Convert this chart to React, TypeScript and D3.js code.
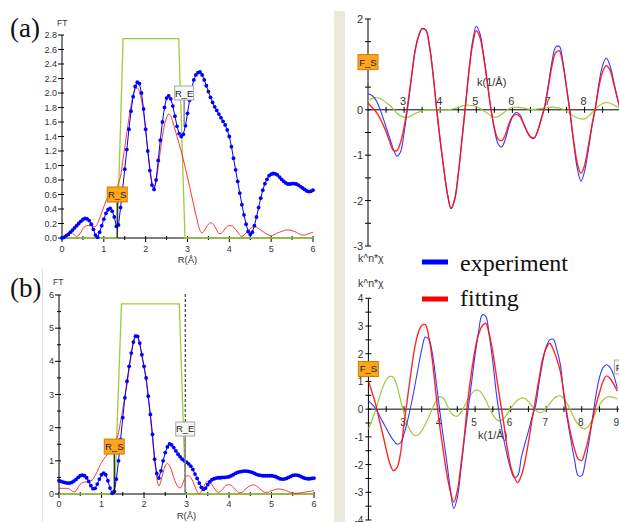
import React from 'react';
import * as d3 from 'd3';

// ---------- data ----------
// FT grids: R = 0..6 step 0.05 ; chi grids: k = 2..9 step 0.1
const R_GRID = d3.range(121).map((i) => i * 0.05);
const K_GRID = d3.range(71).map((i) => 2 + i * 0.1);

const ftExpA = [
  0.00,0.01,0.03,0.05,0.08,0.11,0.14,0.17,0.20,0.23,
  0.255,0.27,0.265,0.24,0.19,0.12,0.04,0.01,0.08,0.17,
  0.26,0.34,0.39,0.41,0.37,0.29,0.16,0.18,0.42,0.68,
  0.95,1.22,1.50,1.75,1.95,2.09,2.15,2.13,2.00,1.78,
  1.50,1.20,0.93,0.73,0.67,0.80,1.07,1.35,1.60,1.80,
  1.93,1.96,1.92,1.82,1.68,1.54,1.44,1.40,1.43,1.55,
  1.72,1.90,2.06,2.18,2.25,2.28,2.29,2.25,2.18,2.10,
  2.02,1.94,1.87,1.81,1.76,1.71,1.66,1.61,1.56,1.49,
  1.40,1.26,1.10,0.94,0.78,0.62,0.46,0.32,0.19,0.09,
  0.05,0.08,0.17,0.29,0.42,0.55,0.66,0.75,0.81,0.86,
  0.88,0.89,0.885,0.87,0.84,0.81,0.78,0.76,0.745,0.745,
  0.75,0.75,0.745,0.73,0.71,0.69,0.67,0.65,0.64,0.645,
  0.66,
];
const ftFitA = [
  0.00,0.03,0.05,0.07,0.08,0.07,0.04,0.02,0.04,0.08,
  0.13,0.16,0.17,0.17,0.17,0.16,0.16,0.20,0.27,0.35,
  0.43,0.51,0.57,0.61,0.63,0.64,0.67,0.76,0.85,1.05,
  1.25,1.45,1.65,1.83,1.97,2.05,2.07,2.02,1.90,1.72,
  1.48,1.22,0.98,0.78,0.68,0.78,0.98,1.20,1.40,1.56,
  1.66,1.71,1.68,1.60,1.50,1.40,1.30,1.20,1.08,0.96,
  0.84,0.71,0.58,0.45,0.32,0.20,0.10,0.07,0.10,0.15,
  0.19,0.21,0.20,0.16,0.11,0.06,0.06,0.09,0.13,0.16,
  0.17,0.17,0.15,0.12,0.08,0.04,0.02,0.04,0.07,0.10,
  0.13,0.15,0.16,0.15,0.13,0.11,0.09,0.07,0.05,0.04,
  0.03,0.04,0.05,0.07,0.08,0.09,0.10,0.11,0.11,0.11,
  0.10,0.09,0.08,0.06,0.05,0.04,0.04,0.05,0.06,0.07,
  0.08,
];
const ftExpB = [
  0.40,0.38,0.36,0.34,0.33,0.33,0.35,0.39,0.44,0.50,
  0.55,0.57,0.55,0.49,0.38,0.25,0.16,0.17,0.30,0.45,
  0.58,0.63,0.58,0.40,0.18,0.02,0.08,0.45,1.00,1.65,
  2.30,2.90,3.40,3.85,4.25,4.58,4.76,4.75,4.55,4.20,
  3.85,3.50,2.95,2.40,1.80,1.05,0.62,0.48,0.70,1.00,
  1.25,1.42,1.51,1.48,1.40,1.30,1.20,1.12,1.05,1.00,
  0.96,0.91,0.84,0.74,0.60,0.47,0.33,0.20,0.14,0.18,
  0.28,0.37,0.43,0.46,0.48,0.49,0.49,0.50,0.50,0.51,
  0.52,0.55,0.58,0.62,0.65,0.67,0.68,0.69,0.69,0.68,
  0.67,0.65,0.62,0.59,0.57,0.56,0.55,0.55,0.55,0.55,
  0.55,0.54,0.52,0.49,0.46,0.45,0.45,0.47,0.50,0.53,
  0.56,0.57,0.57,0.55,0.52,0.49,0.47,0.46,0.46,0.47,
  0.48,
];
const ftFitB = [
  0.17,0.17,0.17,0.17,0.17,0.15,0.10,0.06,0.10,0.20,
  0.30,0.34,0.36,0.37,0.38,0.40,0.44,0.55,0.68,0.82,
  0.95,1.05,1.13,1.22,1.32,1.42,1.50,1.62,1.85,2.20,
  2.55,2.95,3.30,3.75,4.20,4.58,4.80,4.78,4.52,4.15,
  3.80,3.45,2.90,2.30,1.65,1.00,0.50,0.24,0.40,0.65,
  0.85,0.92,0.86,0.70,0.50,0.33,0.22,0.18,0.28,0.45,
  0.54,0.55,0.50,0.38,0.22,0.08,0.01,0.08,0.22,0.33,
  0.38,0.36,0.28,0.18,0.09,0.05,0.08,0.15,0.22,0.27,
  0.28,0.26,0.20,0.13,0.07,0.04,0.05,0.10,0.16,0.21,
  0.25,0.27,0.27,0.24,0.19,0.13,0.08,0.05,0.05,0.07,
  0.10,0.12,0.14,0.15,0.15,0.14,0.12,0.10,0.07,0.05,
  0.03,0.02,0.02,0.03,0.04,0.05,0.06,0.07,0.08,0.09,
  0.10,
];

const chiExpA = [
  0.36,0.32,0.24,0.08,-0.14,-0.38,-0.62,-0.86,-1.02,-0.93,
  -0.50,0.05,0.68,1.28,1.62,1.79,1.76,1.42,0.80,0.02,
  -0.68,-1.30,-1.85,-2.18,-1.98,-1.42,-0.68,0.10,0.90,1.52,
  1.84,1.68,1.22,0.65,0.05,-0.42,-0.74,-0.82,-0.66,-0.38,
  -0.16,-0.06,-0.10,-0.28,-0.47,-0.60,-0.63,-0.47,-0.20,0.10,
  0.58,1.08,1.38,1.40,1.05,0.50,-0.08,-0.75,-1.30,-1.57,
  -1.35,-0.90,-0.38,0.05,0.60,0.98,1.14,0.98,0.65,0.28,
  -0.05,
];
const chiFitA = [
  0.15,0.06,-0.02,-0.14,-0.30,-0.48,-0.70,-0.89,-0.90,-0.72,
  -0.38,0.12,0.70,1.28,1.62,1.78,1.76,1.42,0.80,0.02,
  -0.68,-1.30,-1.85,-2.17,-1.98,-1.42,-0.68,0.08,0.86,1.45,
  1.74,1.60,1.18,0.62,0.05,-0.40,-0.64,-0.68,-0.56,-0.32,
  -0.15,-0.10,-0.14,-0.29,-0.47,-0.59,-0.62,-0.46,-0.20,0.08,
  0.52,0.98,1.26,1.30,1.00,0.48,-0.08,-0.70,-1.18,-1.40,
  -1.22,-0.82,-0.35,0.05,0.52,0.84,0.97,0.88,0.60,0.28,
  0.02,
];
const chiWinA = [
  0.20,0.25,0.27,0.26,0.22,0.16,0.10,0.02,-0.07,-0.13,
  -0.16,-0.16,-0.13,-0.08,-0.05,-0.02,0.00,0.00,0.00,0.00,
  0.00,0.00,0.00,0.01,0.03,0.05,0.08,0.10,0.10,0.09,
  0.07,0.03,-0.02,-0.07,-0.13,-0.16,-0.15,-0.10,-0.04,0.02,
  0.05,0.06,0.05,0.04,0.02,0.01,0.01,0.02,0.03,0.04,
  0.05,0.06,0.05,0.04,0.01,-0.03,-0.08,-0.14,-0.18,-0.20,
  -0.20,-0.15,-0.07,0.02,0.09,0.14,0.16,0.15,0.11,0.07,
  0.03,
];
const chiExpB = [
  0.30,0.18,0.03,-0.20,-0.45,-0.68,-0.92,-1.12,-1.26,-1.22,
  -0.90,-0.42,0.15,0.80,1.50,2.15,2.60,2.52,2.00,1.05,
  0.02,-0.95,-1.85,-2.85,-3.58,-3.20,-2.20,-1.05,-0.05,0.95,
  1.95,2.80,3.40,3.35,2.65,1.70,0.55,-0.35,-1.05,-1.65,
  -2.15,-2.46,-2.40,-1.75,-1.25,-0.80,-0.30,0.12,0.95,1.70,
  2.25,2.50,2.52,2.15,1.60,0.45,-0.40,-1.15,-1.85,-2.40,
  -2.40,-1.90,-1.20,-0.35,0.50,1.15,1.50,1.60,1.50,1.22,
  0.75,
];
const chiFitB = [
  1.02,0.62,0.20,-0.35,-0.88,-1.45,-1.95,-2.22,-2.12,-1.62,
  -0.55,0.40,1.35,2.20,2.75,3.02,3.05,2.60,1.75,0.55,
  -0.55,-1.45,-2.30,-2.95,-3.35,-2.95,-2.05,-0.95,0.35,1.35,
  2.15,2.70,3.00,3.10,2.70,2.05,1.20,0.35,-0.45,-1.35,
  -2.05,-2.45,-2.65,-2.40,-1.90,-1.20,-0.40,0.35,1.10,1.80,
  2.20,2.38,2.15,1.80,1.35,0.55,-0.30,-0.95,-1.45,-1.80,
  -1.85,-1.50,-1.00,-0.40,0.15,0.60,1.00,1.20,1.10,0.90,
  0.65,
];
const chiWinB = [
  -0.72,-0.40,-0.05,0.38,0.78,1.05,1.18,1.15,0.85,0.35,
  -0.15,-0.55,-0.82,-0.95,-0.93,-0.78,-0.55,-0.28,0.02,0.30,
  0.45,0.40,0.18,-0.08,-0.23,-0.25,-0.12,0.10,0.35,0.55,
  0.68,0.68,0.55,0.32,0.05,-0.20,-0.37,-0.42,-0.35,-0.18,
  0.02,0.20,0.33,0.40,0.39,0.28,0.12,-0.03,-0.12,-0.10,
  0.03,0.20,0.36,0.46,0.48,0.38,0.18,-0.08,-0.35,-0.55,
  -0.67,-0.70,-0.60,-0.38,-0.10,0.15,0.33,0.43,0.45,0.42,
  0.37,
];

// R-space window (R, FT)
const winA_R = [0, 1.32, 1.46, 2.79, 2.94, 6];
const winA_FT = [0, 0, 2.75, 2.75, 0, 0];
const winB_R = [0, 1.31, 1.47, 2.83, 2.98, 6];
const winB_FT = [0, 0, 5.73, 5.73, 0, 0];

// fit range markers
const rStartA = 1.32, rEndA = 2.92;
const rStartB = 1.30, rEndB = 2.97;
const kStart = 2.0;

const yTicksA = d3.range(0, 2.81, 0.2);
const yTicksB = [0, 1, 2, 3, 4, 5, 6];
const rTicks = [0, 1, 2, 3, 4, 5, 6];
const kTicksA = [3, 4, 5, 6, 7, 8];
const kTicksB = [3, 4, 5, 6, 7, 8, 9];
const chiTicksA = [2, 0, -1, -2, -3]; // "1" is hidden under the F_S marker
const chiTicksB = [4, 3, 2, 1, 0, -1, -2, -3, -4];

const legendLabels = ['experiment', 'fitting'];

// ---------- styling ----------
const SANS = "'Liberation Sans', Arial, sans-serif";
const SERIF = "'Liberation Serif', 'Times New Roman', serif";
const BLUE = '#0000ff';
const RED = '#ff1010';
const GREEN = '#9ccc3c';
const TXT = '#333';

function Box({ cx, cy, w, h, label, kind }: any) {
  const orange = kind === 'o';
  return (
    <g>
      <rect x={cx - w / 2} y={cy - h / 2} width={w} height={h}
        fill={orange ? '#ffa41c' : '#f6f6f6'} stroke={orange ? '#c98000' : '#a8a8a8'} strokeWidth={1} />
      <text x={cx} y={cy + 3.5} textAnchor="middle" fontFamily={SANS} fontSize={9.5} fill="#222">{label}</text>
    </g>
  );
}

function FTPanel({ x, y, exp, fit, winR, winFT, yTicks, yMinor, yFmt, yMax, rs, re, rsY, reY, reLineEnd, dashed, xLabY, rLabY, ftLab, yLabX }: any) {
  const ln = d3.line<number>().x((_, i) => x(R_GRID[i])).y((d) => y(d));
  const lnFit = d3.line<number>().x((_, i) => x(R_GRID[i])).y((d) => y(d)).curve(d3.curveMonotoneX);
  const win = d3.line<number>().x((_, i) => x(winR[i])).y((d) => y(d));
  const x0 = x(0), y0 = y(0);
  return (
    <g>
      <line x1={x0} x2={x0} y1={y0} y2={y(yMax)} stroke="#000" />
      {yTicks.map((t: number) => (
        <g key={'yt' + t}>
          <line x1={x0 - 4} x2={x0 + 2} y1={y(t)} y2={y(t)} stroke="#000" />
          <text x={yLabX} y={y(t) + 3} textAnchor="end" fontFamily={SANS} fontSize={9} fill={TXT}>{yFmt(t)}</text>
        </g>
      ))}
      {yMinor.map((t: number) => (
        <line key={'ym' + t} x1={x0 - 2} x2={x0 + 2} y1={y(t)} y2={y(t)} stroke="#000" />
      ))}
      <line x1={x0} x2={x(6)} y1={y0} y2={y0} stroke="#000" />
      {d3.range(0, 6.01, 0.5).map((t) => (
        <line key={'xt' + t} x1={x(t)} x2={x(t)} y1={y0 - 2} y2={y0 + (t % 1 === 0 ? 4 : 2)} stroke="#000" />
      ))}
      {rTicks.map((t) => (
        <text key={'xl' + t} x={x(t)} y={xLabY} textAnchor="middle" fontFamily={SANS} fontSize={9} fill={TXT}>{t}</text>
      ))}
      <text x={x(3)} y={rLabY} textAnchor="middle" fontFamily={SANS} fontSize={9.5} fill={TXT}>R(Å)</text>
      <text x={ftLab[0]} y={ftLab[1]} fontFamily={SANS} fontSize={8.5} fill={TXT}>FT</text>
      <path d={win(winFT) || ''} fill="none" stroke={GREEN} strokeWidth={1.3} />
      {dashed && <line x1={x(re)} x2={x(re)} y1={y(yMax) - 1} y2={y0} stroke="#222" strokeDasharray="3,2" />}
      <path d={lnFit(fit) || ''} fill="none" stroke={RED} strokeOpacity={0.85} strokeWidth={1} />
      <path d={ln(exp) || ''} fill="none" stroke={BLUE} strokeWidth={1} />
      {exp.map((d: number, i: number) => (
        <circle key={'p' + i} cx={x(R_GRID[i])} cy={y(d)} r={1.9} fill={BLUE} />
      ))}
      <line x1={x(rs)} x2={x(rs)} y1={y(rsY) + 7} y2={y0} stroke="#111" strokeWidth={1.2} />
      <Box cx={x(rs)} cy={y(rsY)} w={20} h={15} label="R_S" kind="o" />
      <line x1={x(re)} x2={x(re)} y1={y(reY) + 7} y2={y(reLineEnd)} stroke="#888" strokeWidth={1.5} />
      <Box cx={x(re)} cy={y(reY)} w={19} h={14} label="R_E" kind="w" />
    </g>
  );
}

function ChiPanel({ k, c, exp, fit, win, xTicks, yTicks, yMin, yMax, labAbove, kLab, knLab, fsY, feX, feY, fs, clipId }: any) {
  const ln = d3.line<number>().x((_, i) => k(K_GRID[i])).y((d) => c(d)).curve(d3.curveCatmullRom);
  const x0 = k(2), y0 = c(0);
  return (
    <g>
      <defs>
        <clipPath id={clipId}><rect x={x0} y={c(yMax) - 5} width={300} height={c(yMin) - c(yMax) + 10} /></clipPath>
      </defs>
      <line x1={x0} x2={x0} y1={c(yMin)} y2={c(yMax)} stroke="#000" />
      {d3.range(yMin, yMax + 0.01, 0.5).map((t) => (
        <line key={'cy' + t} x1={x0 - 3} x2={x0 + 3} y1={c(t)} y2={c(t)} stroke="#000" />
      ))}
      {yTicks.map((t: number) => (
        <text key={'cl' + t} x={x0 - 5} y={c(t) + 4} textAnchor="end" fontFamily={SANS} fontSize={fs} fill={TXT}>{t < 0 ? '-' + Math.abs(t) : t}</text>
      ))}
      <line x1={x0} x2={625} y1={y0} y2={y0} stroke="#000" />
      {d3.range(2.5, 9.01, 0.5).map((t) => (
        <line key={'kt' + t} x1={k(t)} x2={k(t)} y1={y0 - 3} y2={y0 + 3} stroke="#000" />
      ))}
      {xTicks.map((t: number) => (
        <text key={'kl' + t} x={k(t) - 1} y={labAbove ? y0 - 5 : y0 + 17} textAnchor="middle" fontFamily={SANS} fontSize={fs} fill={TXT}>{t}</text>
      ))}
      <text x={kLab[0]} y={kLab[1]} fontFamily={SANS} fontSize={11} fill={TXT}>k(1/Å)</text>
      <text x={knLab[0]} y={knLab[1]} fontFamily={SANS} fontSize={10.5} fill={TXT}>k^n*χ</text>
      <g clipPath={`url(#${clipId})`}>
        <path d={ln(win) || ''} fill="none" stroke={GREEN} strokeWidth={1.2} />
        <path d={ln(exp) || ''} fill="none" stroke="#3838ff" strokeWidth={1.1} />
        <path d={ln(fit) || ''} fill="none" stroke={RED} strokeOpacity={0.9} strokeWidth={1.4} />
      </g>
      <Box cx={k(kStart)} cy={c(fsY)} w={20} h={15} label="F_S" kind="o" />
      <Box cx={k(feX) + 10} cy={c(feY)} w={20} h={14} label="F_E" kind="w" />
    </g>
  );
}

export default function App() {
  const xA = d3.scaleLinear().domain([0, 6]).range([62, 313]);
  const yA = d3.scaleLinear().domain([0, 2.8]).range([238, 35]);
  const xB = d3.scaleLinear().domain([0, 6]).range([59, 314]);
  const yB = d3.scaleLinear().domain([0, 6]).range([494, 295]);
  const kA = d3.scaleLinear().domain([2, 9]).range([368, 620.7]);
  const cA = d3.scaleLinear().domain([-3, 2]).range([246, 19]);
  const kB = d3.scaleLinear().domain([2, 9]).range([368.4, 617.3]);
  const cB = d3.scaleLinear().domain([-4, 4]).range([520, 298.3]);

  return (
    <svg width={619} height={522} style={{ position: 'absolute', left: 0, top: 0, background: '#fff' }}>
      <rect x={0} y={0} width={619} height={522} fill="#fff" />
      <rect x={334} y={11} width={11} height={511} fill="#ece9d8" />
      <line x1={42.5} x2={42.5} y1={269} y2={522} stroke="#e6e3d3" strokeWidth={1} />

      <text x={10} y={37} fontFamily={SERIF} fontSize={27} fill="#111">(a)</text>
      <text x={10} y={297} fontFamily={SERIF} fontSize={27} fill="#111">(b)</text>

      <FTPanel x={xA} y={yA} exp={ftExpA} fit={ftFitA} winR={winA_R} winFT={winA_FT}
        yTicks={yTicksA} yMinor={[]} yFmt={d3.format('.1f')} yMax={2.8}
        rs={rStartA} re={rEndA} rsY={0.6} reY={2.0} reLineEnd={1.56} dashed={false}
        xLabY={252} rLabY={263} ftLab={[57, 26]} yLabX={57} />
      <FTPanel x={xB} y={yB} exp={ftExpB} fit={ftFitB} winR={winB_R} winFT={winB_FT}
        yTicks={yTicksB} yMinor={d3.range(0.5, 6, 1)} yFmt={(t: number) => String(t)} yMax={6}
        rs={rStartB} re={rEndB} rsY={1.43} reY={1.96} reLineEnd={0} dashed={true}
        xLabY={507} rLabY={519} ftLab={[53, 285]} yLabX={54} />

      <ChiPanel k={kA} c={cA} exp={chiExpA} fit={chiFitA} win={chiWinA}
        xTicks={kTicksA} yTicks={chiTicksA} yMin={-3} yMax={2} labAbove={true}
        kLab={[477, 86]} knLab={[358, 262]} fsY={1.05} feX={8.97} feY={0.53} fs={11} clipId="cla" />
      <ChiPanel k={kB} c={cB} exp={chiExpB} fit={chiFitB} win={chiWinB}
        xTicks={kTicksB} yTicks={chiTicksB} yMin={-4} yMax={4} labAbove={false}
        kLab={[478, 439]} knLab={[358, 287]} fsY={1.45} feX={8.92} feY={1.52} fs={10} clipId="clb" />

      <rect x={422} y={259.5} width={26} height={5} fill="#0000ff" />
      <text x={460} y={271} fontFamily={SERIF} fontSize={24} fill="#111">{legendLabels[0]}</text>
      <rect x={422} y={296.5} width={26} height={5} fill="#ff0000" />
      <text x={460} y={306} fontFamily={SERIF} fontSize={24} fill="#111">{legendLabels[1]}</text>
    </svg>
  );
}
